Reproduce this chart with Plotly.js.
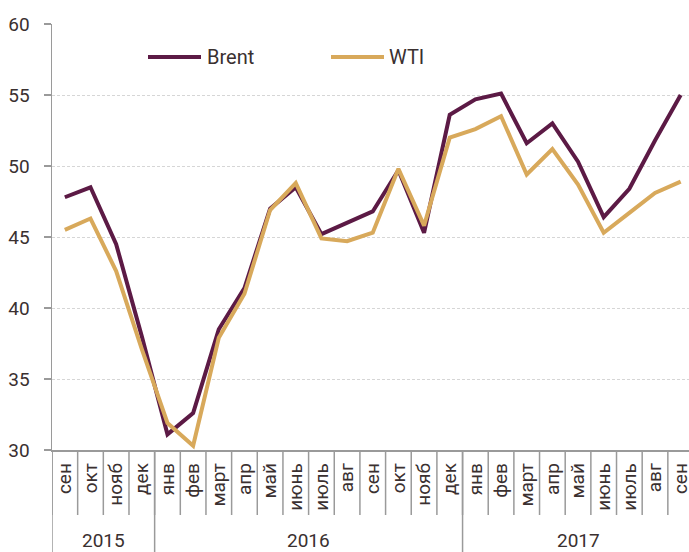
<!DOCTYPE html>
<html>
<head>
<meta charset="utf-8">
<script src="https://cdn.plot.ly/plotly-3.0.1.min.js"></script>
<style>
html,body{margin:0;padding:0;background:#fff;overflow:hidden;}
#chart{width:689px;height:552px;}
</style>
</head>
<body>
<div id="chart"></div>
<script>
// ---- data ----
const months = ['сен','окт','нояб','дек','янв','фев','март','апр','май','июнь','июль','авг','сен','окт','нояб','дек','янв','фев','март','апр','май','июнь','июль','авг','сен'];
const years = ['2015','2016','2017'];
const yearCounts = [4, 12, 9];
const brent = [47.8, 48.5, 44.5, 38.0, 31.1, 32.6, 38.5, 41.4, 47.0, 48.5, 45.2, 46.0, 46.8, 49.7, 45.3, 53.6, 54.7, 55.1, 51.6, 53.0, 50.3, 46.4, 48.4, 51.8, 55.0];
const wti   = [45.5, 46.3, 42.6, 37.1, 31.9, 30.3, 37.9, 41.0, 46.9, 48.8, 44.9, 44.7, 45.3, 49.8, 45.8, 52.0, 52.6, 53.5, 49.4, 51.2, 48.7, 45.3, 46.7, 48.1, 48.9];
const seriesNames = ['Brent', 'WTI'];
const yTicks = [30, 35, 40, 45, 50, 55, 60];

// ---- styles ----
const colBrent = '#5c1a45';
const colWTI = '#d8a95b';
const textCol = '#3a3030';
const axisCol = '#9a9a9a';
const font = 'Roboto, "Open Sans", Arial, sans-serif';

const xIdx = months.map((_, i) => i);

const traces = [
  {x: xIdx, y: brent, name: seriesNames[0], type: 'scatter', mode: 'lines',
   line: {color: colBrent, width: 4, shape: 'linear'}, showlegend: false},
  {x: xIdx, y: wti, name: seriesNames[1], type: 'scatter', mode: 'lines',
   line: {color: colWTI, width: 4, shape: 'linear'}, showlegend: false}
];

// pixel helpers for the plot area (l=52, t=24, plot 637x426)
const PL = 52, PT = 24, PW = 637, PH = 426;
const px2paperX = p => (p - PL) / PW;
const py2paperY = p => (PT + PH - p) / PH;

const shapes = [];
const annotations = [];

// month dividers
for (let i = 0; i < months.length; i++) {
  shapes.push({type: 'line', xref: 'x', yref: 'paper', x0: i - 0.5, x1: i - 0.5,
    y0: 0, y1: py2paperY(515), line: {color: axisCol, width: 1.5}, layer: 'above'});
}
// year dividers + labels
let start = 0;
const yearBounds = [-0.5];
years.forEach((yr, k) => {
  const end = start + yearCounts[k];
  yearBounds.push(end - 0.5);
  annotations.push({xref: 'x', yref: 'paper', x: (start + end - 1) / 2, y: py2paperY(540),
    text: yr, showarrow: false, xanchor: 'center', yanchor: 'middle',
    font: {family: font, size: 19, color: textCol}});
  start = end;
});
yearBounds.slice(0, 3).forEach(b => {
  shapes.push({type: 'line', xref: 'x', yref: 'paper', x0: b, x1: b,
    y0: 0, y1: py2paperY(560), line: {color: axisCol, width: 1.5}, layer: 'above'});
});

// custom legend
const legendItems = [
  {name: seriesNames[0], color: colBrent, x0: 148, x1: 201, tx: 205},
  {name: seriesNames[1], color: colWTI, x0: 331, x1: 384, tx: 387}
];
legendItems.forEach(it => {
  shapes.push({type: 'line', xref: 'paper', yref: 'paper',
    x0: px2paperX(it.x0), x1: px2paperX(it.x1), y0: py2paperY(57), y1: py2paperY(57),
    line: {color: it.color, width: 4}});
  annotations.push({xref: 'paper', yref: 'paper', x: px2paperX(it.tx), y: py2paperY(57),
    text: it.name, showarrow: false, xanchor: 'left', yanchor: 'middle',
    font: {family: font, size: 20, color: textCol}});
});

const layout = {
  width: 689, height: 552,
  margin: {l: PL, r: 0, t: PT, b: 552 - PT - PH, pad: 0},
  paper_bgcolor: '#fff', plot_bgcolor: '#fff',
  showlegend: false,
  xaxis: {
    range: [-0.5, -0.5 + PW / 25.66],
    tickmode: 'array', tickvals: xIdx, ticktext: months, tickangle: -90,
    ticks: '', showgrid: false, zeroline: false,
    showline: true, linecolor: axisCol, linewidth: 1.5,
    tickfont: {family: font, size: 19, color: textCol},
    ticklabelstandoff: 4,
    ticklabeloverflow: 'allow',
    fixedrange: true
  },
  yaxis: {
    range: [30, 60],
    tickmode: 'array', tickvals: yTicks, ticktext: yTicks.map(String),
    ticks: 'outside', ticklen: 7, tickwidth: 1.5, tickcolor: axisCol,
    showline: true, linecolor: axisCol, linewidth: 1.5,
    showgrid: true, gridcolor: '#d6d6d6', gridwidth: 1, griddash: '3px,2px',
    zeroline: false,
    tickfont: {family: font, size: 19, color: textCol},
    ticklabelstandoff: 10,
    fixedrange: true
  },
  shapes: shapes,
  annotations: annotations
};

Plotly.newPlot('chart', traces, layout, {displayModeBar: false, staticPlot: true});
</script>
</body>
</html>
